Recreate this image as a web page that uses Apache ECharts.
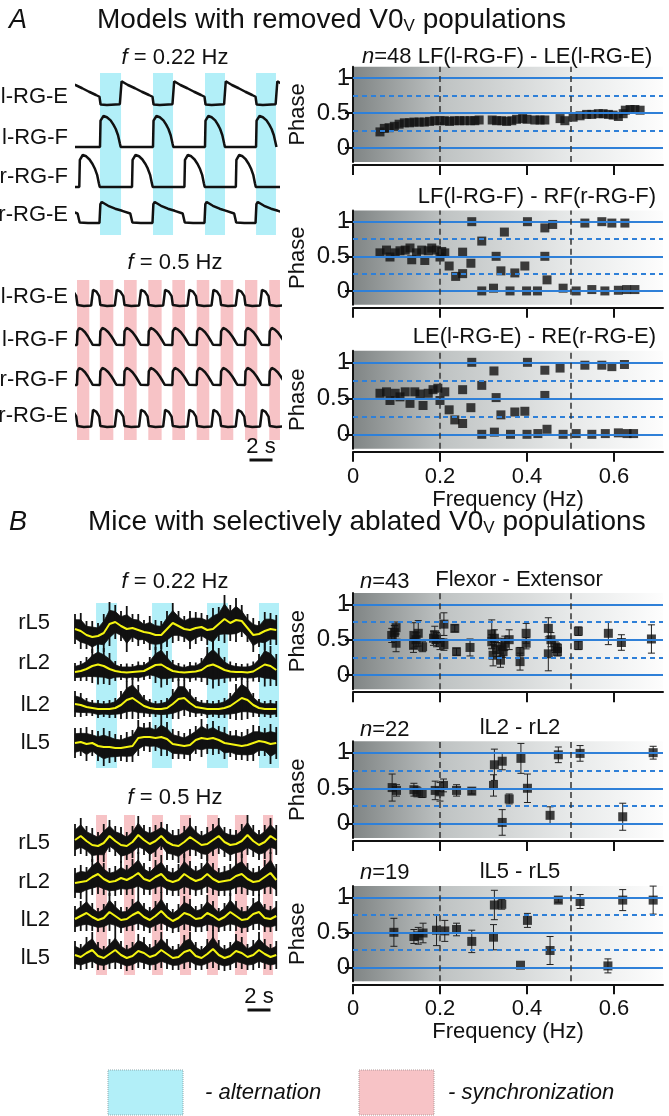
<!DOCTYPE html>
<html>
<head>
<meta charset="utf-8">
<script src="https://cdn.jsdelivr.net/npm/echarts@6/dist/echarts.min.js"></script>
<style>
html, body { margin: 0; padding: 0; background: #fff; }
#container { width: 669px; height: 1116px; }
</style>
</head>
<body>
<div id="container"></div>
<script>
var FONT = '"Liberation Sans", Arial, sans-serif';

// ---------- right column: phase vs frequency ----------
var freqTicks = [0, 0.2, 0.4, 0.6];
var phaseTicks = [0, 0.5, 1];
var refSolid = [0, 0.5, 1];
var refDash = [0.25, 0.75];
var freqMarks = [0.2, 0.5];

var a1Freq = [0.062,0.072,0.083,0.095,0.106,0.118,0.13,0.14,0.152,0.164,0.176,0.188,0.2,0.21,0.222,0.233,0.245,0.256,0.27,0.29,0.32,0.33,0.342,0.353,0.365,0.376,0.39,0.4,0.418,0.43,0.441,0.476,0.487,0.506,0.522,0.537,0.549,0.564,0.575,0.587,0.598,0.61,0.621,0.626,0.637,0.648,0.66,0.28];
var a1Phase = [0.23,0.28,0.29,0.31,0.34,0.36,0.36,0.37,0.37,0.37,0.38,0.39,0.39,0.39,0.38,0.39,0.39,0.39,0.39,0.40,0.40,0.39,0.39,0.38,0.39,0.41,0.42,0.41,0.40,0.40,0.40,0.42,0.39,0.44,0.46,0.48,0.48,0.49,0.49,0.48,0.47,0.45,0.49,0.54,0.55,0.55,0.54,0.39];

var a2Freq = [0.062,0.077,0.085,0.097,0.108,0.12,0.131,0.135,0.146,0.158,0.165,0.173,0.181,0.192,0.2,0.204,0.211,0.221,0.236,0.252,0.252,0.271,0.273,0.296,0.296,0.323,0.329,0.34,0.348,0.361,0.372,0.395,0.399,0.401,0.424,0.441,0.441,0.446,0.459,0.483,0.513,0.533,0.549,0.572,0.579,0.595,0.61,0.625,0.629,0.648];
var a2Phase = [0.55,0.59,0.49,0.55,0.58,0.59,0.62,0.45,0.55,0.59,0.44,0.58,0.62,0.59,0.49,0.57,0.55,0.36,0.21,0.25,0.56,0.40,1.0,0.72,0.0,0.04,0.50,0.29,0.85,0.0,0.26,0.36,0.0,1.0,0.0,0.91,0.50,0.16,0.96,0.04,0.0,0.98,0.02,1.0,0.0,0.98,0.01,0.98,0.02,0.02];

var a3Freq = [0.062,0.077,0.085,0.097,0.108,0.12,0.131,0.142,0.154,0.161,0.173,0.184,0.195,0.2,0.211,0.221,0.234,0.252,0.252,0.271,0.273,0.296,0.324,0.329,0.34,0.372,0.395,0.401,0.441,0.441,0.476,0.533,0.572,0.595,0.624,0.296,0.325,0.362,0.40,0.425,0.446,0.483,0.513,0.549,0.58,0.61,0.63,0.645];
var a3Phase = [0.57,0.59,0.47,0.57,0.52,0.59,0.43,0.59,0.56,0.40,0.57,0.62,0.64,0.47,0.59,0.34,0.20,0.15,0.62,0.37,1.0,0.68,0.88,0.51,0.27,0.31,0.32,1.0,0.89,0.54,0.92,0.96,0.96,0.94,0.97,0.0,0.03,0.0,0.0,0.01,0.07,0.0,0.01,0.0,0.01,0.02,0.01,0.01];

var b1Freq = [0.089,0.099,0.099,0.14,0.139,0.15,0.16,0.188,0.192,0.2,0.209,0.209,0.234,0.238,0.269,0.319,0.319,0.322,0.339,0.342,0.349,0.359,0.384,0.384,0.398,0.398,0.449,0.449,0.47,0.47,0.518,0.518,0.587,0.617,0.686,0.095,0.145,0.185,0.325,0.33,0.455,0.465,0.345];
var b1Phase = [0.56,0.67,0.45,0.56,0.42,0.59,0.40,0.57,0.50,0.46,0.72,0.43,0.66,0.33,0.39,0.58,0.47,0.28,0.21,0.40,0.45,0.50,0.19,0.33,0.59,0.45,0.66,0.30,0.38,0.33,0.62,0.42,0.59,0.46,0.51,0.60,0.50,0.52,0.52,0.36,0.50,0.40,0.33];
var b1Err = [0.1,0.08,0.12,0.18,0.1,0.18,0.07,0.12,0.1,0.1,0.16,0.08,0.05,0.05,0.12,0.2,0.1,0.15,0.1,0.12,0.1,0.14,0.12,0.06,0.14,0.08,0.15,0.24,0.06,0.06,0.06,0.06,0.16,0.11,0.2,0.1,0.1,0.1,0.12,0.1,0.1,0.08,0.08];

var b2Freq = [0.09,0.1,0.14,0.147,0.159,0.189,0.2,0.208,0.238,0.273,0.323,0.325,0.343,0.359,0.343,0.386,0.401,0.453,0.472,0.522,0.62,0.69];
var b2Phase = [0.51,0.47,0.48,0.45,0.43,0.47,0.45,0.54,0.47,0.46,0.54,0.83,0.88,0.35,0.02,0.92,0.50,0.12,0.97,0.99,0.10,1.0];
var b2Err = [0.19,0.08,0.09,0.07,0.06,0.13,0.13,0.09,0.08,0.04,0.15,0.22,0.12,0.07,0.18,0.21,0.2,0.12,0.11,0.11,0.19,0.09];

var b3Freq = [0.094,0.14,0.15,0.161,0.192,0.211,0.238,0.273,0.323,0.325,0.342,0.401,0.453,0.472,0.522,0.62,0.69,0.385,0.586];
var b3Phase = [0.50,0.44,0.45,0.49,0.53,0.52,0.54,0.37,0.43,0.89,0.90,0.67,0.24,0.96,0.94,0.96,0.96,0.03,0.02];
var b3Err = [0.2,0.1,0.12,0.14,0.22,0.15,0.09,0.16,0.18,0.21,0.07,0.1,0.2,0.03,0.1,0.15,0.2,0,0.1];

// ---------- left column: model traces (one cycle, as fraction of the cycle) ----------
var flexShape22 = [[0,0],[0.01,0.85],[0.066,1.0],[0.13,0.96],[0.2,0.86],[0.253,0.72],[0.297,0.58],[0.34,0.38],[0.374,0.12],[0.39,0]];
var extShape22 = [[0,0.33],[0.011,0.02],[0.13,0],[0.374,0.03],[0.39,0.1],[0.407,0.95],[0.43,1.0],[0.527,0.8],[0.66,0.67],[0.79,0.53],[0.923,0.4],[0.99,0.33]];
var rFlexShape22 = [[0,0],[0.604,0],[0.615,0.85],[0.67,1.0],[0.736,0.96],[0.8,0.86],[0.857,0.72],[0.9,0.58],[0.945,0.38],[0.978,0.12],[0.995,0]];
var rExtShape22 = [[0,0],[0.007,0.9],[0.033,1.0],[0.154,0.82],[0.286,0.68],[0.418,0.58],[0.571,0.45],[0.598,0.42],[0.611,0.02],[0.77,0],[0.99,0]];
var flexShape05 = [[0,0],[0.02,0.8],[0.1,1.0],[0.22,0.92],[0.35,0.75],[0.48,0.5],[0.6,0.22],[0.68,0.02],[0.7,0]];
var extShape05 = [[0,0.5],[0.02,0.05],[0.3,0],[0.62,0.03],[0.68,0.1],[0.7,0.9],[0.74,1.0],[0.85,0.8],[0.97,0.55],[0.995,0.5]];

// cycle starts and shaded bands, seconds
var cycles22 = [-2.55, 2.0, 6.61, 11.13, 15.57];
var bandStartA22 = [2.0, 6.61, 11.13, 15.57];
var bandEndA22 = [3.83, 8.35, 12.87, 17.3];
var cycles05 = [-2.09, 0, 1.99, 4.09, 6.2, 8.29, 10.41, 12.49, 14.61, 16.72];
var bandStartA05 = [0, 1.99, 4.09, 6.2, 8.29, 10.41, 12.49, 14.61, 16.72];
var bandEndA05 = [1.07, 3.16, 5.19, 7.36, 9.39, 11.5, 13.59, 15.68, 17.65];

// ---------- left column: mouse recordings, every 0.5 s ----------
var DT = 0.5;
var rL5Y22 = [0.3,0.1,-0.3,-0.5,-0.4,-0.1,0.8,1.0,0.6,0.3,0.4,0.2,0.0,-0.1,-0.3,-0.3,0.3,0.9,0.6,0.3,0.2,0.4,0.5,0.2,0.3,0.8,1.3,0.9,1.2,1.1,0.4,-0.3,-0.2,0.1,0.3,0.2];
var rL5W22 = [1.5,1.8,1.4,1.6,1.3,1.9,2.2,1.7,1.5,2.3,1.4,1.6,1.2,1.7,1.5,1.4,1.8,2.0,1.5,1.3,1.9,1.6,1.4,1.5,2.1,1.7,2.4,1.8,2.2,1.6,1.4,1.7,1.3,1.9,1.6,1.5];
var rL2Y22 = [0,0.1,0.3,0.6,0.75,0.6,0.3,0.1,0,-0.05,0,0.05,0.1,0.4,0.7,0.75,0.4,0.1,0,-0.05,0,0.05,0.2,0.6,0.75,0.5,0.2,0.05,0,0,-0.05,0.05,0.4,0.75,0.6,0.2];
var rL2W22 = [0.9,1.0,1.2,1.7,2.0,1.8,1.6,1.0,0.8,0.9,0.8,1.0,0.9,1.1,1.8,2.3,1.7,1.1,0.9,0.8,1.0,0.9,1.2,1.9,2.4,1.9,1.3,1.0,0.9,0.8,0.9,1.0,1.4,2.2,2.0,1.6];
var lL2Y22 = [0.4,0.3,0.1,0,-0.1,-0.1,-0.1,0,0.3,0.8,1.0,0.6,0.2,0,-0.1,-0.1,0,0.4,0.9,1.0,0.5,0.1,0,-0.1,-0.1,-0.1,0,0.2,0.6,1.0,0.8,0.3,0,-0.1,-0.1,-0.1];
var lL2W22 = [1.3,1.2,0.9,0.8,0.9,0.8,0.9,1.0,1.4,1.9,2.1,1.7,1.1,0.9,0.8,0.9,1.0,1.5,2.0,1.8,1.4,1.0,0.8,0.9,0.8,0.9,1.0,1.3,1.8,2.2,1.9,1.2,0.9,0.8,0.9,0.8];
var lL5Y22 = [0.2,0.3,0.1,0.2,-0.1,-0.2,-0.2,-0.3,-0.3,-0.2,-0.1,0.7,0.8,0.8,0.7,0.8,0.6,0.1,0,-0.1,0,0.5,0.7,0.6,0.7,0.5,0.2,0.1,0,-0.1,0,0.2,0.4,0.3,0.1,0.2];
var lL5W22 = [1.5,1.4,1.7,1.3,1.5,1.9,1.6,1.4,1.3,1.5,1.6,1.8,1.4,1.5,1.3,1.9,1.7,1.5,1.4,1.3,1.6,1.4,1.9,1.5,1.7,1.4,1.6,1.3,1.5,1.4,1.6,1.8,1.5,1.4,2.0,1.6];

var rL5Y05 = [0.5,0.9,0.4,0.0,-0.1,0.2,0.9,0.4,0.0,-0.1,0.3,1.0,0.5,0.1,0.4,0.9,0.3,0.0,-0.1,0.3,0.8,0.4,0.0,0.1,0.5,0.9,0.3,0.0,0.1,0.4,1.0,0.4,0.0,0.3,0.9,0.5];
var rL5W05 = [1.6,1.8,1.5,1.7,1.4,1.9,1.6,1.5,1.8,1.4,1.6,1.9,1.5,1.7,1.6,1.4,1.8,1.5,1.7,1.6,1.9,1.5,1.4,1.7,1.6,1.8,1.5,1.6,1.4,1.7,2.0,1.6,1.5,1.7,1.8,1.5];
var rL2Y05 = [0.0,0.1,0.2,0.6,0.9,0.4,0.1,0.2,0.5,0.3,0.6,1.0,0.4,0.2,0.6,0.9,0.3,0.1,0.3,0.9,0.5,0.2,0.4,0.9,0.4,0.1,0.2,0.3,0.7,0.9,0.4,0.1,0.2,0.6,1.0,0.3];
var rL2W05 = [1.5,1.7,1.4,1.8,2.0,1.6,1.4,1.5,1.7,1.5,1.8,2.1,1.6,1.4,1.7,1.9,1.5,1.4,1.6,2.0,1.7,1.5,1.6,1.9,1.6,1.4,1.5,1.6,1.8,2.0,1.6,1.4,1.5,1.7,2.1,1.6];
var lL2Y05 = [0.2,0.5,0.8,0.4,0.1,0.3,0.9,0.5,0.1,0.2,0.6,0.9,0.4,0.1,0.5,1.0,0.4,0.0,0.3,0.8,0.6,0.2,0.3,0.8,0.5,0.1,0.4,0.9,0.5,0.1,0.2,0.7,0.9,0.3,0.2,0.5];
var lL2W05 = [1.3,1.5,1.8,1.4,1.2,1.4,1.9,1.5,1.3,1.2,1.6,1.8,1.4,1.3,1.5,1.9,1.4,1.2,1.4,1.7,1.6,1.3,1.4,1.8,1.5,1.2,1.4,1.9,1.5,1.3,1.3,1.6,1.8,1.4,1.3,1.5];
var lL5Y05 = [0.4,0.2,0.6,0.9,0.3,0.1,0.5,0.9,0.4,0.1,0.3,0.8,0.6,0.2,0.4,0.9,0.5,0.1,0.2,0.7,0.9,0.3,0.1,0.5,1.0,0.4,0.1,0.3,0.8,0.6,0.2,0.4,0.9,0.5,0.2,0.4];
var lL5W05 = [1.4,1.3,1.6,1.8,1.4,1.2,1.5,1.9,1.4,1.3,1.4,1.7,1.6,1.3,1.5,1.8,1.5,1.2,1.3,1.7,1.8,1.4,1.2,1.5,1.9,1.5,1.3,1.4,1.7,1.6,1.3,1.5,1.8,1.5,1.3,1.4];

var bandStartB22 = [1.83, 6.7, 11.48, 16.0];
var bandEndB22 = [3.65, 8.43, 13.3, 17.74];
var bandStartB05 = [1.83, 4.26, 6.7, 9.13, 11.48, 13.91, 16.35];
var bandEndB05 = [2.78, 5.22, 7.65, 10.09, 12.43, 14.96, 17.22];

var SCALE_BAR = 2; // seconds

// ---------- layout ----------
var BLUE_BAND = '#b2eff8';
var PINK_BAND = '#f7c3c6';
var REF_BLUE = '#2f80d8';
var INK = '#111';
var PX_PER_S = 11.5, PX_PER_UNIT = 10;
var CORE = 0.62; // share of the burst envelope drawn as a solid core

var panels = [
  { top: 66.8, height: 95.2, freq: a1Freq, phase: a1Phase },
  { top: 210.6, height: 94.2, freq: a2Freq, phase: a2Phase },
  { top: 350.8, height: 97.9, freq: a3Freq, phase: a3Phase, bottom: true },
  { top: 593, height: 96.2, freq: b1Freq, phase: b1Phase, err: b1Err },
  { top: 741.3, height: 96.8, freq: b2Freq, phase: b2Phase, err: b2Err },
  { top: 886.1, height: 95.2, freq: b3Freq, phase: b3Phase, err: b3Err, bottom: true }
];

var traceGrids = [
  { left: 77, top: 73, width: 201, height: 162, band: BLUE_BAND, bs: bandStartA22, be: bandEndA22 },
  { left: 77, top: 280, width: 203, height: 160, band: PINK_BAND, bs: bandStartA05, be: bandEndA05 },
  { left: 75, top: 603, width: 204, height: 165, band: BLUE_BAND, bs: bandStartB22, be: bandEndB22 },
  { left: 75, top: 815, width: 202, height: 160, band: PINK_BAND, bs: bandStartB05, be: bandEndB05 }
];

var modelTraces = [
  { grid: 0, shape: extShape22, cyc: cycles22, period: 4.55, base: 13.0, amp: 2.5 },
  { grid: 0, shape: flexShape22, cyc: cycles22, period: 4.55, base: 8.8, amp: 3.1 },
  { grid: 0, shape: rFlexShape22, cyc: cycles22, period: 4.55, base: 4.8, amp: 3.2 },
  { grid: 0, shape: rExtShape22, cyc: cycles22, period: 4.55, base: 1.2, amp: 2.1 },
  { grid: 1, shape: extShape05, cyc: cycles05, period: 2.09, base: 13.4, amp: 1.8 },
  { grid: 1, shape: flexShape05, cyc: cycles05, period: 2.09, base: 9.5, amp: 1.7 },
  { grid: 1, shape: flexShape05, cyc: cycles05, period: 2.09, base: 5.5, amp: 1.7 },
  { grid: 1, shape: extShape05, cyc: cycles05, period: 2.09, base: 1.3, amp: 1.9 }
];

var mouseTraces = [
  { grid: 2, y: rL5Y22, w: rL5W22, base: 13.6 },
  { grid: 2, y: rL2Y22, w: rL2W22, base: 9.6 },
  { grid: 2, y: lL2Y22, w: lL2W22, base: 6.0 },
  { grid: 2, y: lL5Y22, w: lL5W22, base: 2.3 },
  { grid: 3, y: rL5Y05, w: rL5W05, base: 13.0 },
  { grid: 3, y: rL2Y05, w: rL2W05, base: 9.2 },
  { grid: 3, y: lL2Y05, w: lL2W05, base: 5.4 },
  { grid: 3, y: lL5Y05, w: lL5W05, base: 1.6 }
];

function buildCycles(tr) {
  var out = [];
  for (var c = 0; c < tr.cyc.length; c++) {
    var t0 = tr.cyc[c];
    var len = c + 1 < tr.cyc.length ? tr.cyc[c + 1] - t0 : tr.period;
    tr.shape.forEach(function (p) {
      out.push([t0 + p[0] * len, tr.base + tr.amp * p[1]]);
    });
  }
  return out;
}

// each item: this sample and the next one -> [t, centre, halfwidth, tNext, centreNext, halfwidthNext]
function bandData(tr) {
  var d = [];
  for (var i = 0; i < tr.y.length; i++) {
    var j = Math.min(i + 1, tr.y.length - 1);
    d.push([i * DT, tr.base + tr.y[i], tr.w[i], j * DT, tr.base + tr.y[j], tr.w[j]]);
  }
  return d;
}

function errorBar(params, api) {
  var e = api.value(2);
  if (!e) return null;
  var top = api.coord([api.value(0), api.value(1) + e]);
  var bot = api.coord([api.value(0), api.value(1) - e]);
  var st = { stroke: '#222', lineWidth: 1 };
  return {
    type: 'group',
    children: [
      { type: 'line', shape: { x1: top[0], y1: top[1], x2: bot[0], y2: bot[1] }, style: st },
      { type: 'line', shape: { x1: top[0] - 3.5, y1: top[1], x2: top[0] + 3.5, y2: top[1] }, style: st },
      { type: 'line', shape: { x1: bot[0] - 3.5, y1: bot[1], x2: bot[0] + 3.5, y2: bot[1] }, style: st }
    ]
  };
}

function bandPiece(params, api) {
  var t0 = api.value(0), c0 = api.value(1), w0 = api.value(2);
  var t1 = api.value(3), c1 = api.value(4), w1 = api.value(5);
  var kids = [];
  if (t1 > t0) {
    kids.push({
      type: 'polygon',
      shape: { points: [api.coord([t0, c0 - w0 * CORE]), api.coord([t1, c1 - w1 * CORE]),
                        api.coord([t1, c1 + w1 * CORE]), api.coord([t0, c0 + w0 * CORE])] },
      style: { fill: INK, stroke: INK, lineWidth: 0.8 }
    });
  }
  var top = api.coord([t0, c0 + w0]), bot = api.coord([t0, c0 - w0]);
  kids.push({ type: 'line', shape: { x1: top[0], y1: top[1], x2: bot[0], y2: bot[1] }, style: { stroke: INK, lineWidth: 1.8 } });
  return { type: 'group', children: kids };
}

var option = { animation: false, grid: [], xAxis: [], yAxis: [], series: [] };

panels.forEach(function (p, i) {
  option.grid.push({
    left: 353, top: p.top, width: 310, height: p.height,
    show: true, borderWidth: 0,
    backgroundColor: new echarts.graphic.LinearGradient(0, 0, 1, 0, [
      { offset: 0, color: '#808585' },
      { offset: 0.3, color: '#c0c4c4' },
      { offset: 0.7, color: '#e7e9e9' },
      { offset: 1, color: '#fdfdfd' }
    ])
  });
  option.xAxis.push({
    gridIndex: i, type: 'value', min: 0, max: 0.7126, offset: 3,
    axisLine: { onZero: false, lineStyle: { color: INK, width: 2 } },
    axisTick: { customValues: freqTicks, length: 10, lineStyle: { color: INK, width: 2 } },
    axisLabel: { show: !!p.bottom, customValues: freqTicks, margin: 14, fontSize: 22, color: INK, fontFamily: FONT },
    splitLine: { show: false },
    name: p.bottom ? 'Frequency (Hz)' : '', nameLocation: 'middle', nameGap: 36,
    nameTextStyle: { fontSize: 22, color: INK, fontFamily: FONT }
  });
  option.yAxis.push({
    gridIndex: i, type: 'value', min: -0.2, max: 1.16,
    axisLine: { show: true, lineStyle: { color: INK, width: 2 } },
    axisTick: { show: true, customValues: phaseTicks, length: 8, lineStyle: { color: INK, width: 2 } },
    axisLabel: { customValues: phaseTicks, margin: 3, fontSize: 24, color: INK, fontFamily: FONT },
    splitLine: { show: false },
    name: 'Phase', nameLocation: 'middle', nameGap: 44,
    nameTextStyle: { fontSize: 22, color: INK, fontFamily: FONT }
  });
  var marks = [];
  refSolid.forEach(function (v) { marks.push({ yAxis: v, lineStyle: { color: REF_BLUE, width: 2, type: 'solid' } }); });
  refDash.forEach(function (v) { marks.push({ yAxis: v, lineStyle: { color: REF_BLUE, width: 2, type: [5, 4] } }); });
  freqMarks.forEach(function (v) { marks.push({ xAxis: v, lineStyle: { color: '#333', width: 1.5, type: [6, 4] } }); });
  option.series.push({
    type: 'line', xAxisIndex: i, yAxisIndex: i, data: [], z: 1, silent: true,
    markLine: { silent: true, symbol: 'none', label: { show: false }, data: marks }
  });
  if (p.err) {
    option.series.push({
      type: 'custom', xAxisIndex: i, yAxisIndex: i, z: 3, silent: true,
      renderItem: errorBar, encode: { x: 0, y: 1 },
      data: p.freq.map(function (f, k) { return [f, p.phase[k], p.err[k]]; })
    });
  }
  option.series.push({
    type: 'scatter', xAxisIndex: i, yAxisIndex: i, z: 4, symbol: 'rect', symbolSize: 9,
    itemStyle: { color: INK }, silent: true,
    data: p.freq.map(function (f, k) { return [f, p.phase[k]]; })
  });
});

traceGrids.forEach(function (g, j) {
  var gi = panels.length + j;
  option.grid.push({ left: g.left, top: g.top, width: g.width, height: g.height, show: false });
  option.xAxis.push({ gridIndex: gi, type: 'value', min: 0, max: g.width / PX_PER_S, show: false });
  option.yAxis.push({ gridIndex: gi, type: 'value', min: 0, max: g.height / PX_PER_UNIT, show: false });
  option.series.push({
    type: 'line', xAxisIndex: gi, yAxisIndex: gi, data: [], z: 1, silent: true,
    markArea: {
      silent: true, itemStyle: { color: g.band },
      data: g.bs.map(function (s, k) { return [{ xAxis: s }, { xAxis: g.be[k] }]; })
    }
  });
});

modelTraces.forEach(function (tr) {
  var gi = panels.length + tr.grid;
  option.series.push({
    type: 'line', xAxisIndex: gi, yAxisIndex: gi, z: 3, silent: true, clip: true,
    symbol: 'none', lineStyle: { color: INK, width: 2.5 },
    data: buildCycles(tr)
  });
});

mouseTraces.forEach(function (tr) {
  var gi = panels.length + tr.grid;
  option.series.push({
    type: 'custom', xAxisIndex: gi, yAxisIndex: gi, z: 3, silent: true,
    renderItem: bandPiece, encode: { x: [0, 3], y: [1, 4] },
    data: bandData(tr)
  });
  option.series.push({
    type: 'line', xAxisIndex: gi, yAxisIndex: gi, z: 4, silent: true,
    symbol: 'none', lineStyle: { color: '#f4f410', width: 2 },
    data: tr.y.map(function (v, k) { return [k * DT, tr.base + v]; })
  });
});

var chart = echarts.init(document.getElementById('container'), null, { renderer: 'canvas' });
chart.setOption(option);

// ---------- texts, scale bars, legend ----------
var italic = { fontStyle: 'italic', fontSize: 22, fontFamily: FONT, fill: INK };
function txt(x, y, s, size, align, extra) {
  return {
    type: 'text', z: 20, silent: true,
    style: Object.assign({
      x: x, y: y, text: s, fontSize: size, fontFamily: FONT, fill: INK,
      align: align || 'left', verticalAlign: 'middle', rich: { i: italic }
    }, extra || {})
  };
}
var subRich = { i: italic, s: { fontSize: 17, fontFamily: FONT, fill: INK, padding: [12, 0, 0, 0] } };

var g = [];
g.push(txt(9, 20, 'A', 27, 'left', { fontStyle: 'italic' }));
g.push(txt(97, 20, 'Models with removed V0{s|V} populations', 28, 'left', { rich: subRich }));
g.push(txt(9, 522, 'B', 27, 'left', { fontStyle: 'italic' }));
g.push(txt(88, 522, 'Mice with selectively ablated V0{s|V} populations', 28, 'left', { rich: subRich }));

g.push(txt(175, 58, '{i|f} = 0.22 Hz', 22, 'center'));
g.push(txt(175, 263, '{i|f} = 0.5 Hz', 22, 'center'));
g.push(txt(175, 582, '{i|f} = 0.22 Hz', 22, 'center'));
g.push(txt(175, 798, '{i|f} = 0.5 Hz', 22, 'center'));

var modelLabels = ['l-RG-E', 'l-RG-F', 'r-RG-F', 'r-RG-E'];
[97, 138, 177, 215].forEach(function (y, k) { g.push(txt(68, y, modelLabels[k], 22, 'right')); });
[297, 340, 380, 416].forEach(function (y, k) { g.push(txt(68, y, modelLabels[k], 22, 'right')); });
var mouseLabels = ['rL5', 'rL2', 'lL2', 'lL5'];
[623, 663, 705, 743].forEach(function (y, k) { g.push(txt(50, y, mouseLabels[k], 22, 'right')); });
[843, 882, 920, 958].forEach(function (y, k) { g.push(txt(50, y, mouseLabels[k], 22, 'right')); });

g.push(txt(362, 57, '{i|n}=48 LF(l-RG-F) - LE(l-RG-E)', 22, 'left'));
g.push(txt(656, 197, 'LF(l-RG-F) - RF(r-RG-F)', 22, 'right'));
g.push(txt(656, 337, 'LE(l-RG-E) - RE(r-RG-E)', 22, 'right'));
g.push(txt(360, 582, '{i|n}=43', 22, 'left'));
g.push(txt(519, 580, 'Flexor - Extensor', 22, 'center'));
g.push(txt(360, 730, '{i|n}=22', 22, 'left'));
g.push(txt(520, 728, 'lL2 - rL2', 22, 'center'));
g.push(txt(360, 873, '{i|n}=19', 22, 'left'));
g.push(txt(520, 872, 'lL5 - rL5', 22, 'center'));

// scale bars measured through the trace axes
[[7, 460, 447], [9, 1010, 997]].forEach(function (s) {
  var p0 = chart.convertToPixel({ gridIndex: s[0] }, [15.0, 0]);
  var p1 = chart.convertToPixel({ gridIndex: s[0] }, [15.0 + SCALE_BAR, 0]);
  g.push({ type: 'line', z: 20, silent: true, shape: { x1: p0[0], y1: s[1], x2: p1[0], y2: s[1] }, style: { stroke: INK, lineWidth: 3 } });
  g.push(txt((p0[0] + p1[0]) / 2, s[2], SCALE_BAR + ' s', 22, 'center'));
});

g.push({ type: 'rect', z: 20, silent: true, shape: { x: 108, y: 1070, width: 75, height: 45 }, style: { fill: BLUE_BAND, stroke: '#8fa9ad', lineWidth: 1, lineDash: [1, 1] } });
g.push(txt(205, 1093, '- alternation', 22, 'left', { fontStyle: 'italic' }));
g.push({ type: 'rect', z: 20, silent: true, shape: { x: 359, y: 1070, width: 75, height: 45 }, style: { fill: PINK_BAND, stroke: '#b09a9b', lineWidth: 1, lineDash: [1, 1] } });
g.push(txt(448, 1093, '- synchronization', 22, 'left', { fontStyle: 'italic' }));

chart.setOption({ graphic: g });
window.addEventListener('resize', chart.resize);
</script>
</body>
</html>
